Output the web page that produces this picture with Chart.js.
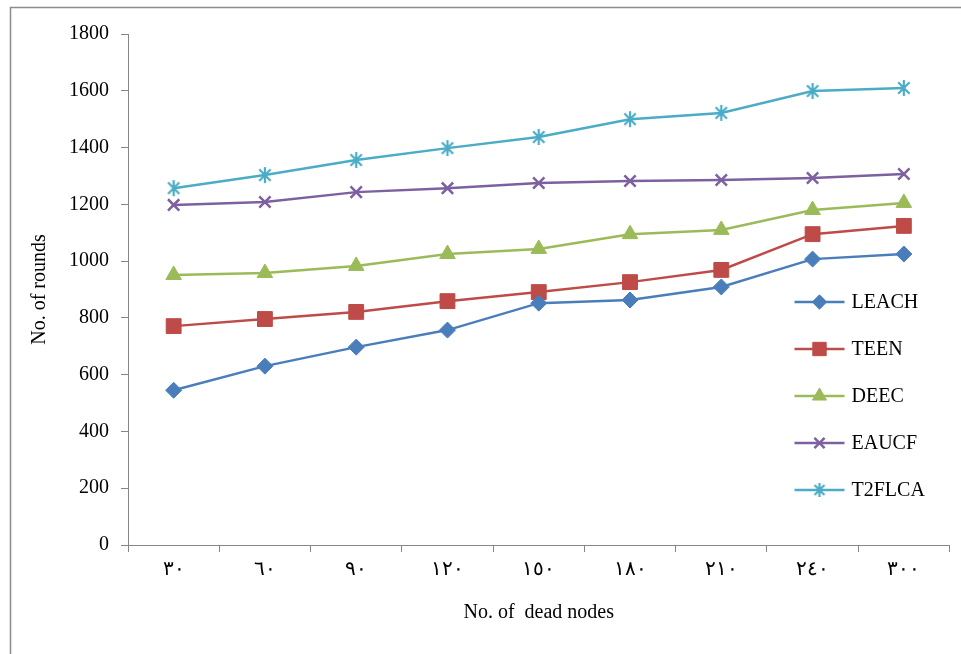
<!DOCTYPE html>
<html>
<head>
<meta charset="utf-8">
<script src="https://cdn.jsdelivr.net/npm/chart.js@4/dist/chart.umd.min.js"></script>
<style>
  html, body { margin: 0; padding: 0; background: #fff; }
  canvas { display: block; }
</style>
</head>
<body>
<canvas id="grafico" width="961" height="654"></canvas>
<script>
// datos
const nodosMuertos = ['٣٠', '٦٠', '٩٠', '١٢٠', '١٥٠', '١٨٠', '٢١٠', '٢٤٠', '٣٠٠'];
const leach  = [545, 630, 697, 757, 852, 863, 909, 1007, 1025];
const teen   = [771, 796, 821, 859, 891, 926, 969, 1095, 1124];
const deec   = [951, 958, 983, 1025, 1043, 1095, 1110, 1180, 1205];
const eaucf  = [1198, 1208, 1243, 1257, 1275, 1282, 1286, 1293, 1307];
const t2flca = [1257, 1303, 1356, 1398, 1437, 1500, 1522, 1599, 1610];
const yMin = 0, yMax = 1800, yPaso = 200;

const fuente = "'Liberation Serif', 'Times New Roman', 'DejaVu Serif', serif";
const colorEje = '#868686';

// marcador tipo asterisco (como el de Excel)
function crearEstrella(color, r) {
    const c = document.createElement('canvas');
    const s = Math.ceil(r * 2 + 4);
    c.width = s; c.height = s;
    const g = c.getContext('2d');
    const m = s / 2;
    g.strokeStyle = color;
    g.lineWidth = 2.2;
    g.lineCap = 'butt';
    g.beginPath();
    g.moveTo(m, m - r); g.lineTo(m, m + r);
    const d = r * Math.SQRT1_2;
    g.moveTo(m - d, m - d); g.lineTo(m + d, m + d);
    g.moveTo(m + d, m - d); g.lineTo(m - d, m + d);
    g.stroke();
    return c;
}

const estrella = crearEstrella('#4BACC6', 8);
const estrellaChica = crearEstrella('#4BACC6', 7);

function serie(label, data, color, estilo, radio, extra) {
    return Object.assign({
        label: label,
        data: data,
        borderColor: color,
        backgroundColor: color,
        borderWidth: 2.5,
        pointStyle: estilo,
        pointRadius: radio,
        pointHoverRadius: radio,
        pointBackgroundColor: color,
        pointBorderColor: color,
        pointBorderWidth: 1,
        tension: 0
    }, extra || {});
}

const datasets = [
    serie('LEACH', leach, '#4A7EBB', 'rectRot', 8),
    serie('TEEN', teen, '#BE4B48', 'rect', 10.5),
    serie('DEEC', deec, '#9BBB59', 'triangle', 9),
    serie('EAUCF', eaucf, '#7D60A0', 'crossRot', 8, { pointBorderWidth: 2.5 }),
    serie('T2FLCA', t2flca, '#4BACC6', estrella, 8)
];

// marco exterior
const marco = {
    id: 'marco',
    beforeDraw(chart) {
        const ctx = chart.ctx;
        ctx.save();
        ctx.strokeStyle = '#8c8c8c';
        ctx.lineWidth = 1.5;
        ctx.strokeRect(10.5, 7.5, 2000, 2000);
        ctx.restore();
    }
};

// leyenda dentro del area del grafico
const leyenda = {
    id: 'leyenda',
    afterDraw(chart) {
        const ctx = chart.ctx;
        const area = chart.chartArea;
        const x0 = area.right - 155;
        const y0 = 302;
        ctx.save();
        chart.data.datasets.forEach((ds, i) => {
            const y = y0 + i * 47;
            ctx.strokeStyle = ds.borderColor;
            ctx.lineWidth = 2.5;
            ctx.beginPath();
            ctx.moveTo(x0, y);
            ctx.lineTo(x0 + 50, y);
            ctx.stroke();
            ctx.fillStyle = ds.backgroundColor;
            ctx.strokeStyle = ds.borderColor;
            ctx.lineWidth = ds.pointBorderWidth;
            const estilo = ds.pointStyle === estrella ? estrellaChica : ds.pointStyle;
            Chart.helpers.drawPoint(ctx, {
                pointStyle: estilo,
                rotation: 0,
                radius: ds.pointRadius * 0.9,
                borderWidth: ds.pointBorderWidth
            }, x0 + 25, y);
            ctx.fillStyle = '#000';
            ctx.font = '20px ' + fuente;
            ctx.textBaseline = 'middle';
            ctx.textAlign = 'left';
            ctx.fillText(ds.label, x0 + 57, y + 1);
        });
        ctx.restore();
    }
};

new Chart(document.getElementById('grafico'), {
    type: 'line',
    data: { labels: nodosMuertos, datasets: datasets },
    options: {
        responsive: false,
        animation: false,
        layout: { padding: { top: 34, right: 11, bottom: 0, left: 0 } },
        plugins: {
            legend: { display: false },
            tooltip: { enabled: false }
        },
        scales: {
            x: {
                offset: true,
                grid: {
                    offset: true,
                    drawOnChartArea: false,
                    drawTicks: true,
                    tickLength: 7,
                    color: colorEje
                },
                border: { color: colorEje, width: 1 },
                ticks: {
                    color: '#000',
                    padding: 6,
                    maxRotation: 0,
                    autoSkip: false,
                    font: { family: fuente, size: 20 }
                },
                title: {
                    display: true,
                    text: 'No. of  dead nodes',
                    color: '#000',
                    font: { family: fuente, size: 20 },
                    padding: { top: 0, bottom: 29 }
                },
                afterFit(scale) { scale.height = 109; }
            },
            y: {
                min: yMin,
                max: yMax,
                grid: {
                    drawOnChartArea: false,
                    drawTicks: true,
                    tickLength: 7,
                    color: colorEje
                },
                border: { color: colorEje, width: 1 },
                ticks: {
                    stepSize: yPaso,
                    color: '#000',
                    padding: 12,
                    font: { family: fuente, size: 20 },
                    callback: v => String(v)
                },
                title: {
                    display: true,
                    text: 'No. of rounds',
                    color: '#000',
                    font: { family: fuente, size: 20 },
                    padding: { top: 28, bottom: 0 }
                },
                afterFit(scale) { scale.width = 128; }
            }
        }
    },
    plugins: [marco, leyenda]
});
</script>
</body>
</html>
